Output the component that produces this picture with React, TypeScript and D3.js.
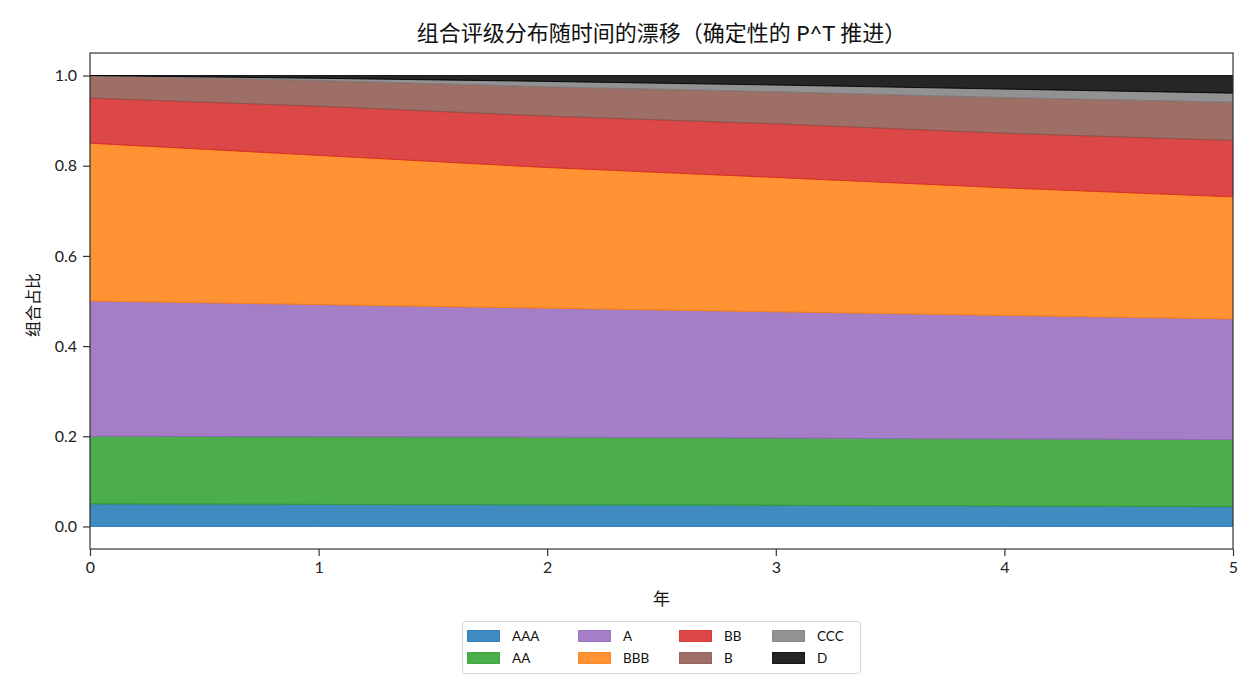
import React, { useRef, useEffect } from "react";
import * as d3 from "d3";

// years on the x axis
const years = [0, 1, 2, 3, 4, 5];

// share of portfolio per rating
const ratings = ["AAA", "AA", "A", "BBB", "BB", "B", "CCC", "D"];
const shareAAA = [0.05, 0.049, 0.048, 0.047, 0.0455, 0.044];
const shareAA = [0.15, 0.15, 0.15, 0.149, 0.1485, 0.1485];
const shareA = [0.3, 0.293, 0.286, 0.28, 0.274, 0.2675];
const shareBBB = [0.35, 0.331, 0.312, 0.298, 0.283, 0.271];
const shareBB = [0.1, 0.109, 0.114, 0.119, 0.121, 0.125];
const shareB = [0.05, 0.057, 0.065, 0.071, 0.079, 0.085];
const shareCCC = [0.0, 0.005, 0.012, 0.015, 0.019, 0.02];
const shareD = [0.0, 0.006, 0.013, 0.021, 0.03, 0.039];

const colors = ["#1f77b4", "#2ca02c", "#9467bd", "#ff7f0e", "#d62728", "#8c564b", "#7f7f7f", "#000000"];

const yTicks = [0, 0.2, 0.4, 0.6, 0.8, 1.0];
const xTicks = [0, 1, 2, 3, 4, 5];

const FONT = "Lato, 'Noto Sans CJK SC', sans-serif";

export default function App() {
  const svgRef = useRef<SVGSVGElement>(null);

  useEffect(() => {
    if (!svgRef.current) return;
    document.body.style.margin = "0";

    const width = 1260;
    const height = 700;
    const margin = { left: 90, right: 27, top: 53, bottom: 151 };

    const svg = d3.select(svgRef.current);
    svg.selectAll("*").remove();
    svg.attr("width", width).attr("height", height).style("font-family", FONT);

    const x = d3.scaleLinear().domain([0, 5]).range([margin.left, width - margin.right]);
    const y = d3.scaleLinear().domain([-0.05, 1.05]).range([height - margin.bottom, margin.top]);

    const series = [shareAAA, shareAA, shareA, shareBBB, shareBB, shareB, shareCCC, shareD];
    const rows = years.map((yr, i) => {
      const row: Record<string, number> = { year: yr };
      ratings.forEach((r, k) => (row[r] = series[k][i]));
      return row;
    });

    const stacked = d3.stack<Record<string, number>>().keys(ratings)(rows);

    const area = d3
      .area<d3.SeriesPoint<Record<string, number>>>()
      .x(d => x(d.data.year))
      .y0(d => y(d[0]))
      .y1(d => y(d[1]));

    const clip = svg.append("clipPath").attr("id", "plotclip");
    clip
      .append("rect")
      .attr("x", margin.left)
      .attr("y", margin.top)
      .attr("width", width - margin.left - margin.right)
      .attr("height", height - margin.top - margin.bottom);

    svg
      .append("g")
      .attr("clip-path", "url(#plotclip)")
      .selectAll("path")
      .data(stacked)
      .enter()
      .append("path")
      .attr("d", area)
      .attr("fill", (d, i) => colors[i])
      .attr("fill-opacity", 0.85)
      .attr("stroke", (d, i) => colors[i])
      .attr("stroke-opacity", 0.85)
      .attr("stroke-width", 1);

    // axes
    const xAxis = svg
      .append("g")
      .attr("transform", `translate(0, ${height - margin.bottom})`)
      .call(d3.axisBottom(x).tickValues(xTicks).tickSize(7).tickPadding(6).tickFormat(d3.format("d")));
    const yAxis = svg
      .append("g")
      .attr("transform", `translate(${margin.left}, 0)`)
      .call(d3.axisLeft(y).tickValues(yTicks).tickSize(7).tickPadding(6).tickFormat(d3.format(".1f")));

    [xAxis, yAxis].forEach(ax => {
      ax.select(".domain").remove();
      ax.selectAll("line").attr("stroke", "#333").attr("stroke-width", 1.2);
      ax.selectAll("text").attr("fill", "#222").style("font-size", "16px").style("font-family", FONT);
    });

    // frame
    svg
      .append("rect")
      .attr("x", margin.left)
      .attr("y", margin.top)
      .attr("width", width - margin.left - margin.right)
      .attr("height", height - margin.top - margin.bottom)
      .attr("fill", "none")
      .attr("stroke", "#333")
      .attr("stroke-width", 1.2);

    // title and labels
    svg
      .append("text")
      .attr("x", (margin.left + width - margin.right) / 2)
      .attr("y", 41)
      .attr("text-anchor", "middle")
      .style("font-size", "22px")
      .attr("fill", "#111")
      .text("组合评级分布随时间的漂移（确定性的 P^T 推进）");

    svg
      .append("text")
      .attr("x", (margin.left + width - margin.right) / 2)
      .attr("y", 605)
      .attr("text-anchor", "middle")
      .style("font-size", "17px")
      .attr("fill", "#111")
      .text("年");

    svg
      .append("text")
      .attr("transform", `translate(39, ${(margin.top + height - margin.bottom) / 2 + 4}) rotate(-90)`)
      .attr("text-anchor", "middle")
      .style("font-size", "16px")
      .attr("fill", "#111")
      .text("组合占比");

    // legend, 4 columns, filled column by column
    const legend = svg.append("g");
    legend
      .append("rect")
      .attr("x", 462.5)
      .attr("y", 621.5)
      .attr("width", 398)
      .attr("height", 52)
      .attr("rx", 3)
      .attr("fill", "white")
      .attr("stroke", "#d6d6d6");

    const colX = [467, 578, 679, 772];
    const rowY = [636, 658];
    ratings.forEach((r, i) => {
      const cx = colX[Math.floor(i / 2)];
      const cy = rowY[i % 2];
      legend
        .append("rect")
        .attr("x", cx + 0.5)
        .attr("y", cy - 5.5)
        .attr("width", 32)
        .attr("height", 11)
        .attr("fill", colors[i])
        .attr("fill-opacity", 0.85)
        .attr("stroke", colors[i])
        .attr("stroke-opacity", 0.85);
      legend
        .append("text")
        .attr("x", cx + 45)
        .attr("y", cy)
        .attr("dy", "0.36em")
        .style("font-size", "13.5px")
        .attr("fill", "#111")
        .text(r);
    });
  }, []);

  return <svg ref={svgRef} style={{ display: "block" }} />;
}
